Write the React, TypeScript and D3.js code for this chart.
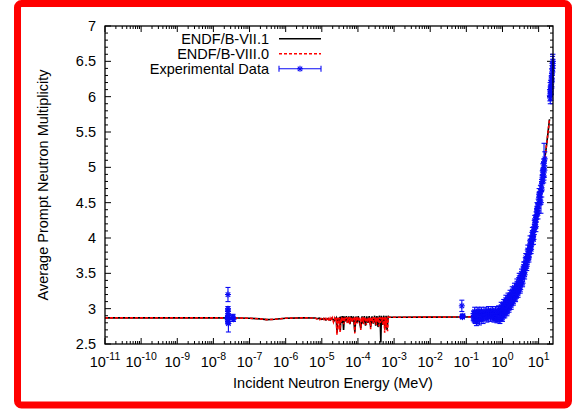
import React from 'react';
import * as d3 from 'd3';

const W = 577;
const H = 412;
const M = { left: 105, right: 553, top: 26, bottom: 344 };

const xDomain: [number, number] = [1e-11, 25];
const yDomain: [number, number] = [2.5, 7];
const xTickExps = [-11, -10, -9, -8, -7, -6, -5, -4, -3, -2, -1, 0, 1];
const yTickValues = [2.5, 3, 3.5, 4, 4.5, 5, 5.5, 6, 6.5, 7];
const yTickLabels = ['2.5', '3', '3.5', '4', '4.5', '5', '5.5', '6', '6.5', '7'];

const legendLabels = ['ENDF/B-VII.1', 'ENDF/B-VIII.0', 'Experimental Data'];
const xTitle = 'Incident Neutron Energy (MeV)';
const yTitle = 'Average Prompt Neutron Multiplicity';

// smooth thermal / epithermal region (shared by both evaluations)
const smoothLow: [number, number][] = [
  [1e-11, 2.87], [1e-9, 2.87], [1e-8, 2.87], [5e-8, 2.868], [1e-7, 2.865], [2e-7, 2.855],
  [3e-7, 2.845], [5e-7, 2.85], [1e-6, 2.865], [3e-6, 2.87], [6e-6, 2.868],
];

const resonance71: [number, number][] = [
  [6.5e-6, 2.868], [7.5e-6, 2.858], [8.5e-6, 2.866], [1.0e-5, 2.85], [1.15e-5, 2.862], [1.3e-5, 2.84],
  [1.5e-5, 2.862], [1.7e-5, 2.838], [1.9e-5, 2.866], [2.2e-5, 2.83], [2.5e-5, 2.87], [2.63e-5, 2.66],
  [2.75e-5, 2.87], [3.0e-5, 2.8], [3.15e-5, 2.885], [3.25e-5, 2.69], [3.4e-5, 2.89], [3.6e-5, 2.8],
  [3.8e-5, 2.895], [4.0e-5, 2.7], [4.2e-5, 2.89], [4.5e-5, 2.82], [4.8e-5, 2.895], [5.2e-5, 2.8],
  [5.6e-5, 2.89], [6.0e-5, 2.78], [6.5e-5, 2.895], [7.0e-5, 2.82], [7.5e-5, 2.89], [8.2e-5, 2.67],
  [8.8e-5, 2.89], [9.5e-5, 2.8], [1.02e-4, 2.895], [1.1e-4, 2.81], [1.2e-4, 2.72], [1.3e-4, 2.89],
  [1.4e-4, 2.79], [1.5e-4, 2.895], [1.62e-4, 2.76], [1.75e-4, 2.89], [1.9e-4, 2.8], [2.05e-4, 2.895],
  [2.25e-4, 2.74], [2.45e-4, 2.89], [2.65e-4, 2.79], [2.9e-4, 2.9], [3.1e-4, 2.76], [3.35e-4, 2.895],
  [3.6e-4, 2.74], [3.9e-4, 2.9], [4.15e-4, 2.8], [4.3e-4, 2.52], [4.45e-4, 2.9], [4.8e-4, 2.77],
  [5.2e-4, 2.9], [5.6e-4, 2.72], [6.0e-4, 2.9], [6.4e-4, 2.7], [6.9e-4, 2.9], [7.0e-4, 2.878],
];

const resonance80: [number, number][] = [
  [6.5e-6, 2.866], [7.2e-6, 2.855], [8e-6, 2.864], [8.8e-6, 2.845], [9.6e-6, 2.86], [1.05e-5, 2.84],
  [1.12e-5, 2.858], [1.2e-5, 2.83], [1.3e-5, 2.862], [1.4e-5, 2.825], [1.5e-5, 2.855], [1.6e-5, 2.82],
  [1.7e-5, 2.862], [1.8e-5, 2.83], [1.95e-5, 2.87], [2.1e-5, 2.81], [2.25e-5, 2.865], [2.4e-5, 2.82],
  [2.55e-5, 2.87], [2.62e-5, 2.63], [2.7e-5, 2.87], [2.8e-5, 2.8], [2.9e-5, 2.875], [3.0e-5, 2.7],
  [3.1e-5, 2.87], [3.2e-5, 2.67], [3.3e-5, 2.86], [3.45e-5, 2.81], [3.6e-5, 2.88], [3.75e-5, 2.83],
  [3.9e-5, 2.875], [4.05e-5, 2.78], [4.2e-5, 2.88], [4.35e-5, 2.82], [4.5e-5, 2.875], [4.7e-5, 2.84],
  [4.9e-5, 2.88], [5.1e-5, 2.79], [5.3e-5, 2.875], [5.5e-5, 2.83], [5.7e-5, 2.88], [5.9e-5, 2.78],
  [6.1e-5, 2.875], [6.4e-5, 2.82], [6.7e-5, 2.88], [7.0e-5, 2.8], [7.3e-5, 2.875], [7.6e-5, 2.84],
  [7.9e-5, 2.88], [8.2e-5, 2.65], [8.5e-5, 2.875], [8.8e-5, 2.82], [9.2e-5, 2.88], [9.6e-5, 2.79],
  [1.0e-4, 2.875], [1.05e-4, 2.83], [1.1e-4, 2.88], [1.15e-4, 2.8], [1.2e-4, 2.7], [1.25e-4, 2.875],
  [1.3e-4, 2.82], [1.36e-4, 2.88], [1.42e-4, 2.78], [1.48e-4, 2.875], [1.55e-4, 2.83], [1.62e-4, 2.88],
  [1.7e-4, 2.77], [1.78e-4, 2.875], [1.86e-4, 2.84], [1.95e-4, 2.88], [2.05e-4, 2.8], [2.15e-4, 2.875],
  [2.25e-4, 2.71], [2.35e-4, 2.88], [2.45e-4, 2.82], [2.56e-4, 2.875], [2.68e-4, 2.78], [2.8e-4, 2.88],
  [2.93e-4, 2.83], [3.06e-4, 2.875], [3.2e-4, 2.77], [3.35e-4, 2.88], [3.5e-4, 2.81], [3.66e-4, 2.875],
  [3.83e-4, 2.75], [4.0e-4, 2.88], [4.2e-4, 2.8], [4.4e-4, 2.875], [4.6e-4, 2.82], [4.8e-4, 2.88],
  [5.0e-4, 2.76], [5.25e-4, 2.875], [5.5e-4, 2.66], [5.75e-4, 2.88], [6.0e-4, 2.74], [6.3e-4, 2.875],
  [6.6e-4, 2.68], [6.9e-4, 2.88], [7.0e-4, 2.878],
];

// fast region (shared)
const fastRegion: [number, number][] = [
  [7e-4, 2.878], [1e-3, 2.879], [1e-2, 2.88], [0.1, 2.882], [0.2, 2.89], [0.5, 2.93], [1, 3.0],
  [1.5, 3.08], [2, 3.17], [3, 3.37], [4, 3.55], [5, 3.72], [6, 3.88], [7, 4.03], [8, 4.17],
  [9, 4.31], [10, 4.47], [12, 4.78], [14, 5.03], [16, 5.25], [18, 5.47], [20, 5.68],
];

// experimental data: [energy (MeV), nu, uncertainty]
const expThermal: [number, number, number][] = [
  [2.53e-8, 3.2, 0.1], [2.53e-8, 3.0, 0.03], [2.53e-8, 2.96, 0.03], [2.53e-8, 2.88, 0.03],
  [2.53e-8, 2.85, 0.05], [2.53e-8, 2.82, 0.04], [2.6e-8, 2.79, 0.12], [2.45e-8, 2.87, 0.02],
  [2.55e-8, 2.9, 0.03], [2.5e-8, 2.84, 0.03], [3.5e-8, 2.87, 0.05], [3.6e-8, 2.85, 0.03],
  [3.4e-8, 2.88, 0.03],
];
const expKeV: [number, number, number][] = [
  [0.075, 3.04, 0.08], [0.077, 2.89, 0.02], [0.08, 2.9, 0.02], [0.078, 2.88, 0.02],
];
const expFast: [number, number, number][] = [
  [0.155, 2.88, 0.05], [0.16, 2.93, 0.04], [0.165, 2.85, 0.04], [0.17, 2.9, 0.05], [0.175, 2.83, 0.04],
  [0.18, 2.92, 0.04], [0.185, 2.87, 0.05], [0.19, 2.95, 0.03], [0.2, 2.89, 0.04], [0.21, 2.84, 0.05],
  [0.22, 2.92, 0.04], [0.23, 2.88, 0.05], [0.24, 2.95, 0.03], [0.25, 2.86, 0.04], [0.26, 2.91, 0.04],
  [0.27, 2.89, 0.05], [0.28, 2.94, 0.03], [0.3, 2.9, 0.04], [0.32, 2.93, 0.03], [0.34, 2.88, 0.04],
  [0.36, 2.95, 0.03], [0.38, 2.91, 0.03], [0.4, 2.94, 0.04], [0.42, 2.92, 0.03], [0.45, 2.96, 0.03],
  [0.48, 2.9, 0.04], [0.5, 2.94, 0.03], [0.53, 2.88, 0.04], [0.56, 2.95, 0.03], [0.6, 2.91, 0.04],
  [0.63, 2.87, 0.04], [0.66, 2.94, 0.03], [0.7, 2.9, 0.04], [0.73, 2.86, 0.04], [0.76, 2.95, 0.04],
  [0.8, 2.92, 0.04], [0.83, 2.88, 0.04], [0.86, 2.97, 0.04], [0.9, 2.93, 0.05], [0.93, 2.87, 0.04],
  [0.96, 3.0, 0.04], [1.0, 2.95, 0.05], [1.03, 3.04, 0.04], [1.06, 2.91, 0.04], [1.1, 3.02, 0.05],
  [1.14, 2.97, 0.04], [1.18, 3.08, 0.04], [1.22, 3.0, 0.05], [1.26, 3.1, 0.04], [1.3, 3.04, 0.04],
  [1.35, 2.98, 0.05], [1.4, 3.12, 0.04], [1.45, 3.06, 0.04], [1.5, 3.14, 0.05], [1.55, 3.03, 0.04],
  [1.6, 3.1, 0.04], [1.66, 3.17, 0.05], [1.72, 3.08, 0.04], [1.78, 3.15, 0.04], [1.85, 3.2, 0.05],
  [1.92, 3.11, 0.04], [2.0, 3.18, 0.04], [2.08, 3.24, 0.05], [2.16, 3.15, 0.04], [2.25, 3.22, 0.05],
  [2.35, 3.28, 0.04], [2.45, 3.2, 0.05], [2.55, 3.3, 0.05], [2.65, 3.25, 0.04], [2.75, 3.34, 0.05],
  [2.85, 3.29, 0.05], [2.95, 3.38, 0.05], [3.05, 3.33, 0.04], [3.15, 3.42, 0.05], [3.3, 3.38, 0.05],
  [3.45, 3.47, 0.05], [3.6, 3.43, 0.05], [3.75, 3.53, 0.05], [3.9, 3.5, 0.05], [4.05, 3.6, 0.06],
  [4.2, 3.56, 0.05], [4.35, 3.66, 0.06], [4.5, 3.62, 0.05], [4.7, 3.71, 0.06], [4.9, 3.68, 0.05],
  [5.1, 3.78, 0.06], [5.3, 3.74, 0.05], [5.5, 3.84, 0.06], [5.7, 3.82, 0.05], [5.9, 3.92, 0.06],
  [6.1, 3.88, 0.05], [6.3, 3.97, 0.06], [6.55, 3.96, 0.06], [6.8, 4.04, 0.06], [7.05, 4.02, 0.06],
  [7.3, 4.1, 0.06], [7.6, 4.12, 0.07], [7.9, 4.2, 0.06], [8.2, 4.22, 0.07], [8.5, 4.3, 0.07],
  [8.8, 4.33, 0.07], [9.1, 4.38, 0.07], [9.4, 4.42, 0.07], [9.7, 4.47, 0.08], [10.0, 4.5, 0.08],
  [10.4, 4.57, 0.08], [10.8, 4.62, 0.08], [11.2, 4.66, 0.08], [11.6, 4.5, 0.15], [12.0, 4.75, 0.08],
  [12.4, 4.8, 0.09], [12.8, 4.86, 0.09], [13.2, 4.9, 0.09], [13.6, 4.97, 0.1], [14.0, 5.02, 0.1],
  [14.1, 5.08, 0.26], [14.5, 4.96, 0.1], [14.8, 5.12, 0.1],
];
const expFastSpread: [number, number, number][] = [
  [0.17, 2.96, 0.06], [0.19, 2.82, 0.06], [0.21, 2.97, 0.05], [0.23, 2.83, 0.06], [0.26, 2.97, 0.05],
  [0.29, 2.85, 0.06], [0.33, 2.97, 0.05], [0.37, 2.86, 0.05], [0.41, 2.98, 0.05], [0.46, 2.87, 0.05],
  [0.52, 2.98, 0.05], [0.58, 2.86, 0.05], [0.64, 2.98, 0.05], [0.7, 2.85, 0.05], [0.78, 2.99, 0.05],
  [0.85, 2.84, 0.05], [0.92, 3.03, 0.06], [1.0, 2.87, 0.05], [1.08, 3.07, 0.06], [1.16, 2.92, 0.05],
  [1.24, 3.13, 0.06], [1.33, 2.95, 0.05], [1.42, 3.16, 0.06], [1.52, 3.0, 0.05], [1.62, 3.2, 0.06],
  [1.74, 3.04, 0.05], [1.86, 3.25, 0.06], [2.0, 3.1, 0.05], [2.14, 3.3, 0.06], [2.3, 3.15, 0.05],
  [2.5, 3.36, 0.06], [2.7, 3.21, 0.05], [2.9, 3.44, 0.06], [3.1, 3.27, 0.05], [3.35, 3.5, 0.06],
  [3.6, 3.36, 0.05], [3.85, 3.6, 0.06], [4.1, 3.48, 0.06], [4.4, 3.72, 0.06], [4.7, 3.6, 0.06],
  [5.0, 3.83, 0.07], [5.4, 3.72, 0.06], [5.8, 3.96, 0.07], [6.2, 3.84, 0.06], [6.7, 4.08, 0.07],
  [7.2, 3.98, 0.07], [7.8, 4.25, 0.07], [8.4, 4.16, 0.07], [9.0, 4.42, 0.08], [9.6, 4.35, 0.08],
  [10.3, 4.62, 0.08], [11.0, 4.55, 0.08], [12.2, 4.68, 0.1], [13.0, 4.95, 0.1], [13.8, 4.88, 0.1],
];
const expHigh: [number, number, number][] = [
  [20.5, 6.02, 0.08], [20.8, 6.1, 0.1], [21.0, 5.98, 0.08], [21.3, 6.08, 0.07], [21.6, 6.15, 0.08],
  [21.9, 6.05, 0.1], [22.2, 6.2, 0.08], [22.5, 6.12, 0.09], [22.8, 6.25, 0.08], [23.1, 6.3, 0.09],
  [23.4, 6.22, 0.08], [23.7, 6.35, 0.09], [24.0, 6.4, 0.08], [24.3, 6.47, 0.1], [24.6, 6.44, 0.09],
  [24.9, 6.5, 0.1],
];

const FONT = '"Liberation Sans", Arial, Helvetica, sans-serif';
const BLUE = '#0a0af5';

export default function App() {
  const x = d3.scaleLog().domain(xDomain).range([M.left, M.right]);
  const y = d3.scaleLinear().domain(yDomain).range([M.bottom, M.top]);
  const line = d3.line<[number, number]>().x(d => x(d[0])).y(d => y(d[1]));

  const endf71 = [...smoothLow, ...resonance71, ...fastRegion];
  const endf80 = [...smoothLow, ...resonance80, ...fastRegion];
  const exp = [...expThermal, ...expKeV, ...expFast, ...expFastSpread, ...expHigh];

  const minorX: number[] = [];
  xTickExps.forEach(e => {
    for (let k = 2; k <= 9; k++) {
      const v = k * Math.pow(10, e);
      if (v <= xDomain[1]) minorX.push(v);
    }
  });
  const minorY = d3.range(25, 71).map(v => v / 10).filter(v => Math.abs(v * 2 - Math.round(v * 2)) > 1e-6);

  const star = (cx: number, cy: number, s: number, key: string) => (
    <g key={key}>
      <line x1={cx - s} x2={cx + s} y1={cy} y2={cy} />
      <line x1={cx} x2={cx} y1={cy - s} y2={cy + s} />
      <line x1={cx - s * 0.75} x2={cx + s * 0.75} y1={cy - s * 0.75} y2={cy + s * 0.75} />
      <line x1={cx - s * 0.75} x2={cx + s * 0.75} y1={cy + s * 0.75} y2={cy - s * 0.75} />
    </g>
  );

  const legendRows = [38.8, 53.8, 68.8];

  return (
    <svg width={W} height={H} style={{ position: 'absolute', left: 0, top: 0, background: '#fff' }} fontFamily={FONT}>
      <rect x={0} y={0} width={W} height={H} fill="#fff" />
      <defs>
        <clipPath id="plotClip">
          <rect x={M.left} y={M.top} width={M.right - M.left} height={M.bottom - M.top} />
        </clipPath>
      </defs>

      {/* ticks */}
      <g stroke="#000" strokeWidth={1}>
        {xTickExps.map(e => {
          const px = x(Math.pow(10, e));
          return (
            <g key={'xt' + e}>
              <line x1={px} x2={px} y1={M.bottom} y2={M.bottom - 6} />
              <line x1={px} x2={px} y1={M.top} y2={M.top + 6} />
            </g>
          );
        })}
        {minorX.map((v, i) => {
          const px = x(v);
          return (
            <g key={'xm' + i}>
              <line x1={px} x2={px} y1={M.bottom} y2={M.bottom - 3} />
              <line x1={px} x2={px} y1={M.top} y2={M.top + 3} />
            </g>
          );
        })}
        {yTickValues.map(v => (
          <g key={'yt' + v}>
            <line x1={M.left} x2={M.left + 6} y1={y(v)} y2={y(v)} />
            <line x1={M.right} x2={M.right - 6} y1={y(v)} y2={y(v)} />
          </g>
        ))}
        {minorY.map(v => (
          <g key={'ym' + v}>
            <line x1={M.left} x2={M.left + 3} y1={y(v)} y2={y(v)} />
            <line x1={M.right} x2={M.right - 3} y1={y(v)} y2={y(v)} />
          </g>
        ))}
      </g>

      {/* tick labels */}
      <g fontSize={14.5} fill="#000">
        {yTickValues.map((v, i) => (
          <text key={'yl' + v} x={M.left - 9} y={y(v) + 5} textAnchor="end">{yTickLabels[i]}</text>
        ))}
        {xTickExps.map(e => (
          <text key={'xl' + e} x={x(Math.pow(10, e))} y={367} textAnchor="middle">
            <tspan>10</tspan>
            <tspan dy={-7} fontSize={10.5}>{String(e)}</tspan>
          </text>
        ))}
      </g>

      {/* axis titles */}
      <text x={(M.left + M.right) / 2 + 4} y={388} textAnchor="middle" fontSize={14.5}>{xTitle}</text>
      <text transform={`translate(47.5,${(M.top + M.bottom) / 2}) rotate(-90)`} textAnchor="middle" fontSize={14.5}>{yTitle}</text>

      {/* curves */}
      <g clipPath="url(#plotClip)">
        <path d={line(endf71) || ''} fill="none" stroke="#000" strokeWidth={1.6} />
        <path d={line(endf80) || ''} fill="none" stroke="#f00" strokeWidth={1.6} strokeDasharray="3,2" />
      </g>

      {/* experimental data */}
      <g stroke={BLUE} strokeWidth={1.1} fill="none">
        {exp.map((d, i) => {
          const px = x(d[0]);
          const py = y(d[1]);
          const lo = y(d[1] - d[2]);
          const hi = y(d[1] + d[2]);
          return (
            <g key={'e' + i}>
              <line x1={px} x2={px} y1={lo} y2={hi} />
              <line x1={px - 2.5} x2={px + 2.5} y1={lo} y2={lo} />
              <line x1={px - 2.5} x2={px + 2.5} y1={hi} y2={hi} />
              {star(px, py, 3, 's' + i)}
            </g>
          );
        })}
      </g>

      {/* legend */}
      <g fontSize={14.5}>
        {legendLabels.map((t, i) => (
          <text key={t} x={269} y={legendRows[i] + 5} textAnchor="end">{t}</text>
        ))}
        <line x1={279} x2={321} y1={legendRows[0]} y2={legendRows[0]} stroke="#000" strokeWidth={1.6} />
        <line x1={279} x2={321} y1={legendRows[1]} y2={legendRows[1]} stroke="#f00" strokeWidth={1.6} strokeDasharray="3,2" />
        <g stroke={BLUE} strokeWidth={1.1}>
          <line x1={279} x2={321} y1={legendRows[2]} y2={legendRows[2]} />
          <line x1={279} x2={279} y1={legendRows[2] - 3} y2={legendRows[2] + 3} />
          <line x1={321} x2={321} y1={legendRows[2] - 3} y2={legendRows[2] + 3} />
          {star(300, legendRows[2], 3, 'legstar')}
        </g>
      </g>

      {/* plot border */}
      <rect x={M.left} y={M.top} width={M.right - M.left} height={M.bottom - M.top} fill="none" stroke="#000" strokeWidth={1.3} />

      {/* outer red frame */}
      <rect x={17.5} y={3.5} width={551} height={401.5} rx={4} fill="none" stroke="#f00" strokeWidth={7} />
    </svg>
  );
}
